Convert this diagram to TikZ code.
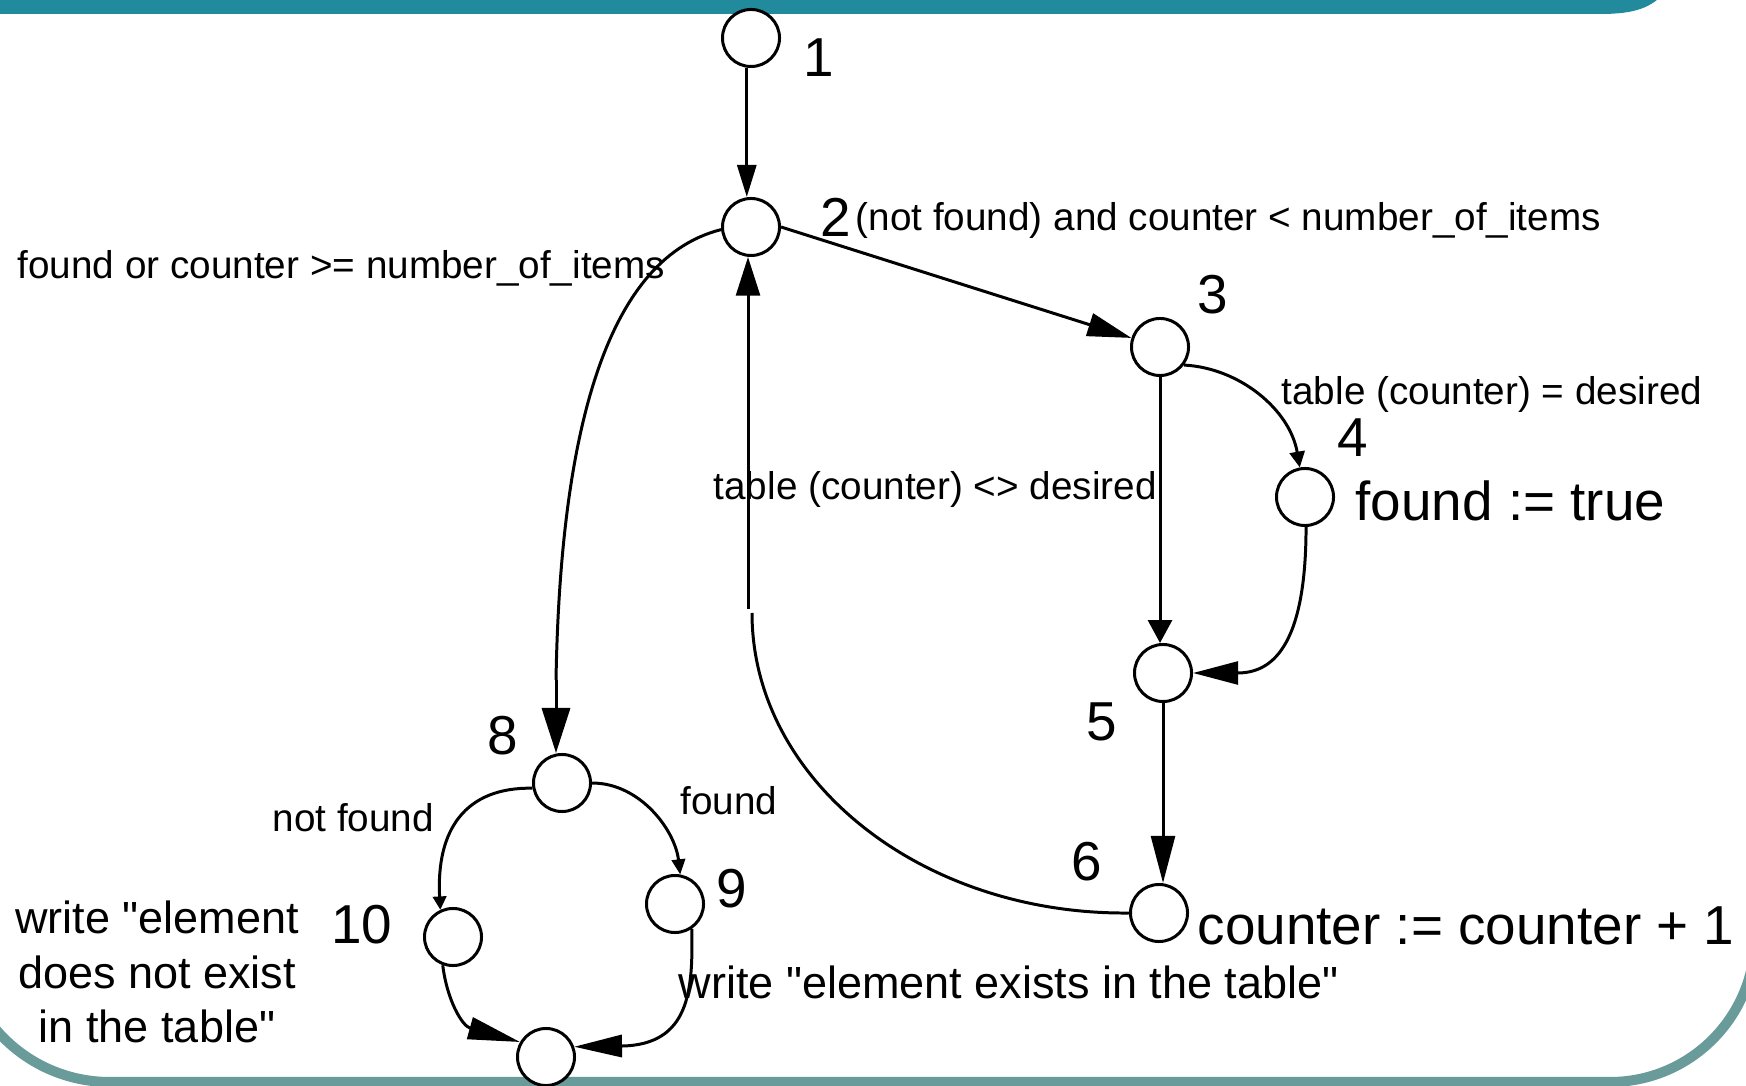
\documentclass[tikz,border=0pt]{standalone}
\usepackage{fontspec}
\setmainfont{Liberation Sans}[Ligatures=TeXOff]
\usetikzlibrary{arrows.meta}
\definecolor{topteal}{RGB}{33,138,157}
\definecolor{botteal}{RGB}{104,155,153}
\tikzset{ah/.style 2 args={-{Triangle[length=#1,width=#2]}}}
\begin{document}
\begin{tikzpicture}[x=0.01cm,y=-0.01cm,
  st/.style={circle,draw,fill=white,line width=0.85pt,minimum size=0.57cm,inner sep=0pt},
  conn/.style={line width=0.85pt},
  small/.style={font=\fontsize{11}{13}\selectfont,inner sep=0pt},
  medium/.style={font=\fontsize{12.8}{15.4}\selectfont,inner sep=0pt},
  big/.style={font=\fontsize{15.6}{18}\selectfont,inner sep=0pt}]
\useasboundingbox (0,0) rectangle (1746,1086);
\clip (0,0) rectangle (1746,1086);
% frame
\fill[topteal] (-10,-10) -- (-10,14) -- (1600,14) .. controls (1635,14) and (1652,8) .. (1667,-10) -- cycle;
\draw[botteal,line width=2.85pt] (-40,932) .. controls (-40,1015) and (27,1082) .. (110,1082) -- (1610,1082) .. controls (1690,1082) and (1755,1017) .. (1755,937);
% states
\node[st] (n1) at (751,38) {};
\node[st] (n2) at (751,227) {};
\node[st] (n3) at (1160,347) {};
\node[st] (n4) at (1305,497) {};
\node[st] (n5) at (1163,673) {};
\node[st] (n6) at (1159,913) {};
\node[st] (n8) at (562,783) {};
\node[st] (n9) at (675,904) {};
\node[st] (n10) at (453,937) {};
\node[st] (n11) at (546,1057) {};
% numbers
\node[big] (l1) at (819,58) {1};
\node[big] (l2) at (836,217) {2};
\node[big] (l3) at (1213,295) {3};
\node[big] (l4) at (1353,438) {4};
\node[big] (l5) at (1102,722) {5};
\node[big] (l6) at (1087,862) {6};
\node[big] (l8) at (503,736) {8};
\node[big] (l9) at (732,889) {9};
\node[big] (l10) at (362,925) {10};
% texts
\node[small,anchor=west] (t2) at (855,220) {(not found) and counter < number\_of\_items};
\node[small,anchor=west] (t28) at (17,268) {found or counter >= number\_of\_items};
\node[small,anchor=west] (t34) at (1281,394) {table (counter) = desired};
\node[small,anchor=west] (t35) at (713,489) {table (counter) <> desired};
\node[big,anchor=west] (t4) at (1355,501) {found := true};
\node[big,anchor=west] (t6) at (1197,926) {counter := counter + 1};
\node[small,anchor=west] (t89) at (680,801) {found};
\node[small,anchor=west] (t810) at (272,818) {not found};
\node[medium,anchor=west] (t9) at (678,982) {write "element exists in the table"};
\node[medium,align=center] (t10) at (157,972) {write "element\\does not exist\\in the table"};
% connectors
\draw[conn,ah={9.1pt}{5.4pt}] ([xshift=-1.2pt]n1.south) -- ([xshift=-1.2pt]n2.north);
\draw[conn,ah={12.5pt}{6.6pt}] (n2.east) -- (n3);
\draw[conn,ah={4.5pt}{4.3pt}] (n3.-37) .. controls (1240,368) and (1290,410) .. (n4.100);
\draw[conn,ah={6.5pt}{6.8pt}] (n3) -- (n3 |- n5.north);
\draw[conn,ah={12.8pt}{6.5pt}] (n4.-88) .. controls (1306,650) and (1270,673) .. (n5.east);
\draw[conn,ah={13.4pt}{6.8pt}] (n5) -- (n5 |- n6.north);
\coordinate (j1) at (752,613);
\coordinate (j2) at (748,609);
\draw[conn] (n6.west) .. controls (921,915) and (752,780) .. (j1);
\draw[conn,ah={11pt}{6.8pt}] (j2) -- (j2 |- n2.south);
\coordinate (j3) at (556,680);
\draw[conn] (n2.185) .. controls (600,260) and (560,450) .. (j3);
\draw[conn,ah={12.8pt}{8pt}] (j3) -- (j3 |- n8.north);
\draw[conn,ah={4.3pt}{3.8pt}] (n8.east) .. controls (640,783) and (675,830) .. (n9.80);
\draw[conn,ah={3.8pt}{3.8pt}] (n8.190) .. controls (465,787) and (436,830) .. (n10.115);
\draw[conn,ah={14.8pt}{6.3pt}] (n10.-110) .. controls (447,1000) and (462,1026) .. (n11.150);
\draw[conn,ah={13.6pt}{6.3pt}] (n9.-56) .. controls (693,990) and (690,1045) .. (n11.20);
\end{tikzpicture}
\end{document}
